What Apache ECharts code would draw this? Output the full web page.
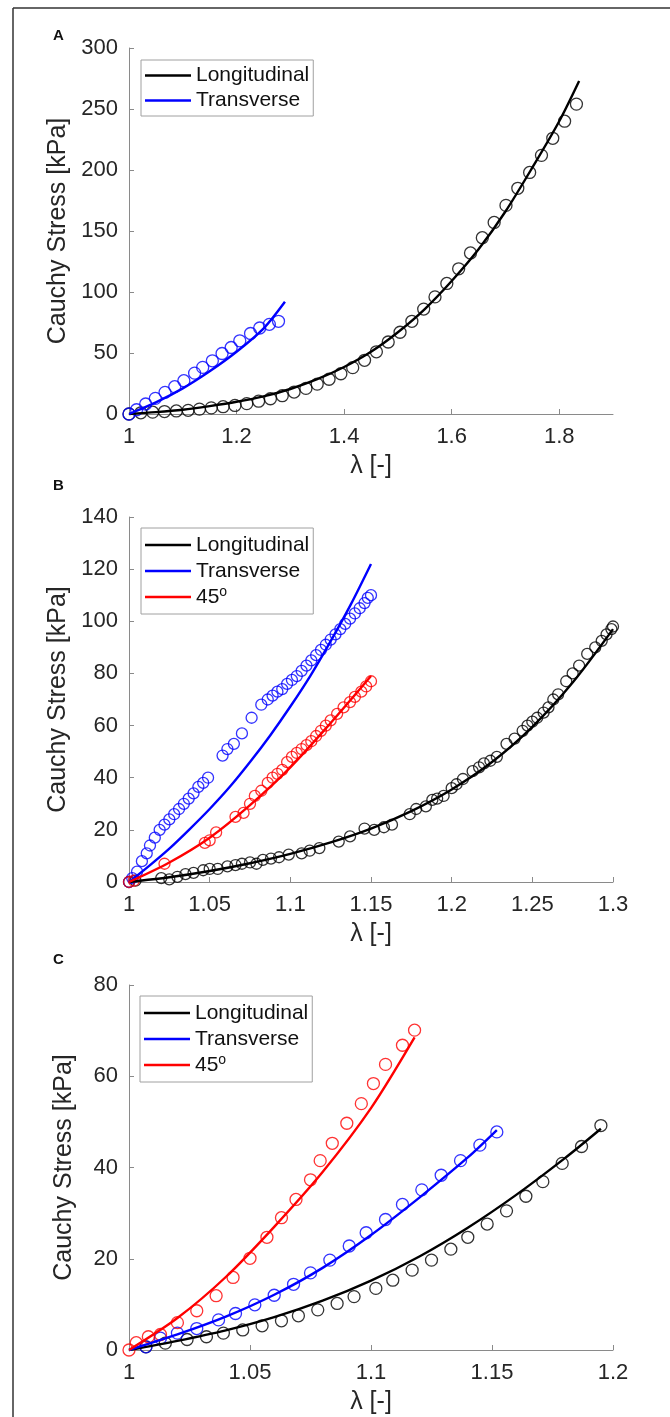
<!DOCTYPE html>
<html><head><meta charset="utf-8">
<script src="https://cdn.jsdelivr.net/npm/echarts@6/dist/echarts.min.js"></script>
<style>html,body{margin:0;padding:0;background:#fff}#c{width:670px;height:1417px}</style>
</head><body><div id="c"></div>
<script>
// ---------- Panel A ----------
const aXTicks = [1, 1.2, 1.4, 1.6, 1.8];
const aYTicks = [0, 50, 100, 150, 200, 250, 300];
const aLongPts = [[1.000,0],[1.022,1],[1.044,1.5],[1.066,2],[1.088,2.5],[1.110,3],[1.131,4],[1.153,5],[1.175,6],[1.197,7],[1.219,8.5],[1.241,10.5],[1.263,12.5],[1.285,15],[1.307,18],[1.329,21],[1.350,24.5],[1.372,28.5],[1.394,33],[1.416,38],[1.438,44],[1.460,51],[1.482,59],[1.504,67],[1.526,76],[1.548,86],[1.569,96],[1.591,107],[1.613,119],[1.635,132],[1.657,144.5],[1.679,157],[1.701,171],[1.723,185],[1.745,198],[1.767,212],[1.788,226],[1.810,240],[1.832,254]];
const aLongFit = [[1.0,0],[1.05,1.5],[1.1,3.5],[1.15,6.5],[1.2,10],[1.25,14.5],[1.3,20.5],[1.35,28.5],[1.4,38.5],[1.45,51],[1.5,67],[1.55,86],[1.6,109],[1.65,135],[1.7,166],[1.75,202],[1.8,240],[1.837,273]];
const aTransPts = [[1.000,0],[1.014,3.5],[1.031,8.2],[1.049,12.8],[1.067,17.7],[1.085,22.4],[1.102,27.3],[1.122,33.5],[1.137,38.2],[1.155,43.6],[1.173,49.6],[1.190,54.5],[1.206,60],[1.226,66],[1.243,70.5],[1.261,73.5],[1.278,76]];
const aTransFit = [[1.0,0],[1.05,9.5],[1.1,21],[1.15,35],[1.2,51],[1.25,70],[1.29,92]];

// ---------- Panel B ----------
const bXTicks = [1, 1.05, 1.1, 1.15, 1.2, 1.25, 1.3];
const bYTicks = [0, 20, 40, 60, 80, 100, 120, 140];
const bLongPts = [[1.000,0],[1.004,0.5],[1.020,1.5],[1.025,1],[1.030,2],[1.035,3],[1.040,3.5],[1.046,4.5],[1.050,5],[1.055,5],[1.061,6],[1.066,6.5],[1.070,7],[1.075,7.5],[1.079,7],[1.083,8.5],[1.088,9],[1.093,9.5],[1.099,10.5],[1.107,11],[1.112,12],[1.118,13],[1.130,15.5],[1.137,17.5],[1.146,20.5],[1.152,20],[1.158,21],[1.163,22],[1.174,26],[1.178,28],[1.184,29],[1.188,31.5],[1.191,32],[1.195,33],[1.200,36],[1.203,37.5],[1.207,39.5],[1.213,42.5],[1.217,44],[1.220,45.5],[1.224,46.5],[1.228,48],[1.234,53],[1.239,55],[1.244,58],[1.247,60],[1.250,61.5],[1.253,63],[1.257,65],[1.260,67],[1.263,70],[1.266,72],[1.271,77],[1.275,80],[1.279,83],[1.284,87.5],[1.289,90],[1.293,92.5],[1.296,95],[1.299,97],[1.300,98]];
const bLongFit = [[1.0,0],[1.025,1.8],[1.05,4.2],[1.075,7.2],[1.1,10.8],[1.125,15.2],[1.15,20.5],[1.175,27.2],[1.2,35.5],[1.225,46],[1.25,59.5],[1.275,76.5],[1.3,97]];
const bTransPts = [[1.000,0],[1.002,1.5],[1.005,4],[1.008,8],[1.011,11],[1.013,14],[1.016,17],[1.019,20],[1.022,22],[1.025,24],[1.028,26],[1.031,28],[1.034,30],[1.037,32],[1.040,34],[1.043,36.5],[1.046,38],[1.049,40],[1.058,48.5],[1.061,51],[1.065,53],[1.070,57],[1.076,63],[1.082,68],[1.086,70],[1.089,71.5],[1.092,73],[1.095,74],[1.098,76],[1.101,77.5],[1.104,79],[1.107,81],[1.110,83],[1.113,85],[1.116,87],[1.119,89],[1.122,91],[1.125,93],[1.128,95],[1.131,97],[1.134,99],[1.137,101],[1.140,103],[1.143,105],[1.146,107],[1.148,109],[1.150,110]];
const bTransFit = [[1.0,0],[1.0125,6.2],[1.025,12.8],[1.0375,20.2],[1.05,28],[1.0625,36.5],[1.075,46],[1.0875,56.2],[1.1,67.3],[1.1125,79.2],[1.125,92.4],[1.1375,106.5],[1.15,122]];
const b45Pts = [[1.000,0],[1.003,0.5],[1.022,7],[1.047,15],[1.050,16],[1.054,19],[1.066,25],[1.071,26.5],[1.075,30],[1.078,33],[1.082,35],[1.086,38],[1.089,40],[1.092,41.5],[1.095,43],[1.098,46],[1.101,48],[1.104,49.5],[1.107,51],[1.110,52.5],[1.113,54],[1.116,56],[1.119,58],[1.122,60],[1.125,62],[1.129,64.5],[1.133,67],[1.137,69],[1.140,71],[1.144,73],[1.147,75],[1.150,77]];
const b45Fit = [[1.0,0],[1.025,7.5],[1.05,17],[1.075,29.5],[1.1,44],[1.125,61],[1.15,79]];

// ---------- Panel C ----------
const cXTicks = [1, 1.05, 1.1, 1.15, 1.2];
const cYTicks = [0, 20, 40, 60, 80];
const cLongPts = [[1.007,0.7],[1.015,1.5],[1.024,2.3],[1.032,2.9],[1.039,3.7],[1.047,4.4],[1.055,5.3],[1.063,6.4],[1.070,7.5],[1.078,8.8],[1.086,10.2],[1.093,11.7],[1.102,13.5],[1.109,15.3],[1.117,17.5],[1.125,19.7],[1.133,22.1],[1.140,24.7],[1.148,27.6],[1.156,30.5],[1.164,33.7],[1.171,36.9],[1.179,40.9],[1.187,44.6],[1.195,49.2]];
const cLongFit = [[1.0,0],[1.02,2],[1.04,4.3],[1.06,7.2],[1.08,10.8],[1.1,15.2],[1.12,20.5],[1.14,26.8],[1.16,34],[1.18,42],[1.195,48.5]];
const cTransPts = [[1.007,0.7],[1.013,2.6],[1.020,3.7],[1.028,4.7],[1.037,6.6],[1.044,8],[1.052,9.9],[1.060,12],[1.068,14.4],[1.075,16.9],[1.083,19.7],[1.091,22.8],[1.098,25.7],[1.106,28.6],[1.113,31.9],[1.121,35.1],[1.129,38.3],[1.137,41.5],[1.145,44.9],[1.152,47.8]];
const cTransFit = [[1.0,0],[1.02,3.4],[1.04,7.3],[1.06,12.1],[1.08,18],[1.1,25.2],[1.12,33.4],[1.14,42.2],[1.152,48.2]];
const c45Pts = [[1.000,0],[1.003,1.6],[1.008,2.9],[1.013,3.4],[1.020,6],[1.028,8.6],[1.036,11.9],[1.043,15.9],[1.050,20.1],[1.057,24.7],[1.063,29],[1.069,33],[1.075,37.3],[1.079,41.5],[1.084,45.3],[1.090,49.7],[1.096,54],[1.101,58.4],[1.106,62.6],[1.113,66.8],[1.118,70.1]];
const c45Fit = [[1.0,0],[1.02,7],[1.04,16],[1.06,27],[1.08,39],[1.1,53],[1.118,68.5]];

const FONT = "'Liberation Sans', Arial, Helvetica, sans-serif";
const AXC = '#8a8a8a';
const TXT = '#262626';
const BLACK = '#000000', BLUE = '#0000ff', RED = '#ff0000';

const grids = [
  {left:129, top:48, width:484, height:366},
  {left:129, top:517, width:484, height:365},
  {left:129, top:985, width:484, height:365}
];
const xSpecs = [
  {min:1, max:1.9, ticks:aXTicks},
  {min:1, max:1.3, ticks:bXTicks},
  {min:1, max:1.2, ticks:cXTicks}
];
const ySpecs = [
  {min:0, max:300, ticks:aYTicks},
  {min:0, max:140, ticks:bYTicks},
  {min:0, max:80, ticks:cYTicks}
];

function xAxis(i){
  const s = xSpecs[i];
  return {
    type:'value', gridIndex:i, min:s.min, max:s.max,
    name:'λ [-]', nameLocation:'middle', nameGap:40,
    nameTextStyle:{fontSize:25, color:TXT, fontFamily:FONT},
    axisLine:{show:true, lineStyle:{color:AXC, width:1}},
    axisTick:{show:true, inside:true, length:5, customValues:s.ticks, lineStyle:{color:AXC}},
    axisLabel:{fontSize:22, color:TXT, fontFamily:FONT, margin:12, customValues:s.ticks},
    splitLine:{show:false}
  };
}
function yAxis(i){
  const s = ySpecs[i];
  return {
    type:'value', gridIndex:i, min:s.min, max:s.max,
    name:'Cauchy Stress [kPa]', nameLocation:'middle', nameGap:52,
    nameTextStyle:{fontSize:25, color:TXT, fontFamily:FONT},
    axisLine:{show:true, lineStyle:{color:AXC, width:1}},
    axisTick:{show:true, inside:true, length:5, customValues:s.ticks, lineStyle:{color:AXC}},
    axisLabel:{fontSize:22, color:TXT, fontFamily:FONT, margin:11, customValues:s.ticks},
    splitLine:{show:false}
  };
}
function pts(name, data, color, i, size){
  return {type:'scatter', name:name, xAxisIndex:i, yAxisIndex:i, data:data,
    symbol:'circle', symbolSize:size, clip:false, silent:true,
    itemStyle:{color:'rgba(0,0,0,0)', borderColor:color, borderWidth:1.3}};
}
function fit(name, data, color, i){
  return {type:'line', name:name, xAxisIndex:i, yAxisIndex:i, data:data,
    showSymbol:false, smooth:0.3, clip:false, silent:true, color:color,
    lineStyle:{color:color, width:2.4}, itemStyle:{color:color}};
}
function legend(i, names, left, top){
  return {
    left:left, top:top, orient:'vertical', data:names, selectedMode:false,
    icon:'rect', itemWidth:46, itemHeight:2.5, itemGap:2,
    padding:[5,4,5,4], borderColor:'#a0a0a0', borderWidth:1, backgroundColor:'#fff',
    formatter: n => n === '45°' ? '45{sup|o}' : n,
    textStyle:{fontSize:21, color:'#111', fontFamily:FONT, lineHeight:24,
      rich:{sup:{fontSize:14, fontFamily:FONT, color:'#111', verticalAlign:'top', lineHeight:24}}}
  };
}

const option = {
  animation:false,
  backgroundColor:'#fff',
  grid:grids,
  xAxis:[xAxis(0), xAxis(1), xAxis(2)],
  yAxis:[yAxis(0), yAxis(1), yAxis(2)],
  legend:[
    Object.assign(legend(0, ['Longitudinal','Transverse'], 141, 60), {padding:[4,4,4,4], textStyle:{fontSize:21, color:'#111', fontFamily:FONT, lineHeight:23}}),
    legend(1, ['Longitudinal','Transverse','45°'], 141, 528),
    legend(2, ['Longitudinal','Transverse','45°'], 140, 996)
  ],
  series:[
    pts('A long data', aLongPts, BLACK, 0, 12),
    pts('A trans data', aTransPts, BLUE, 0, 12),
    fit('Longitudinal', aLongFit, BLACK, 0),
    fit('Transverse', aTransFit, BLUE, 0),

    pts('B long data', bLongPts, BLACK, 1, 11),
    pts('B trans data', bTransPts, BLUE, 1, 11),
    pts('B 45 data', b45Pts, RED, 1, 11),
    fit('Longitudinal', bLongFit, BLACK, 1),
    fit('Transverse', bTransFit, BLUE, 1),
    fit('45°', b45Fit, RED, 1),

    pts('C long data', cLongPts, BLACK, 2, 12),
    pts('C trans data', cTransPts, BLUE, 2, 12),
    pts('C 45 data', c45Pts, RED, 2, 12),
    fit('Longitudinal', cLongFit, BLACK, 2),
    fit('Transverse', cTransFit, BLUE, 2),
    fit('45°', c45Fit, RED, 2)
  ],
  graphic:[
    {type:'line', shape:{x1:13, y1:8, x2:670, y2:8}, style:{stroke:'#333', lineWidth:1.5}, silent:true},
    {type:'line', shape:{x1:13, y1:8, x2:13, y2:1417}, style:{stroke:'#333', lineWidth:1.5}, silent:true},
    {type:'text', left:53, top:28, style:{text:'A', fontSize:15, fontWeight:'bold', fill:'#111', fontFamily:FONT}},
    {type:'text', left:53, top:478, style:{text:'B', fontSize:15, fontWeight:'bold', fill:'#111', fontFamily:FONT}},
    {type:'text', left:53, top:952, style:{text:'C', fontSize:15, fontWeight:'bold', fill:'#111', fontFamily:FONT}}
  ]
};
const chart = echarts.init(document.getElementById('c'), null, {renderer:'canvas'});
chart.setOption(option);
</script></body></html>
